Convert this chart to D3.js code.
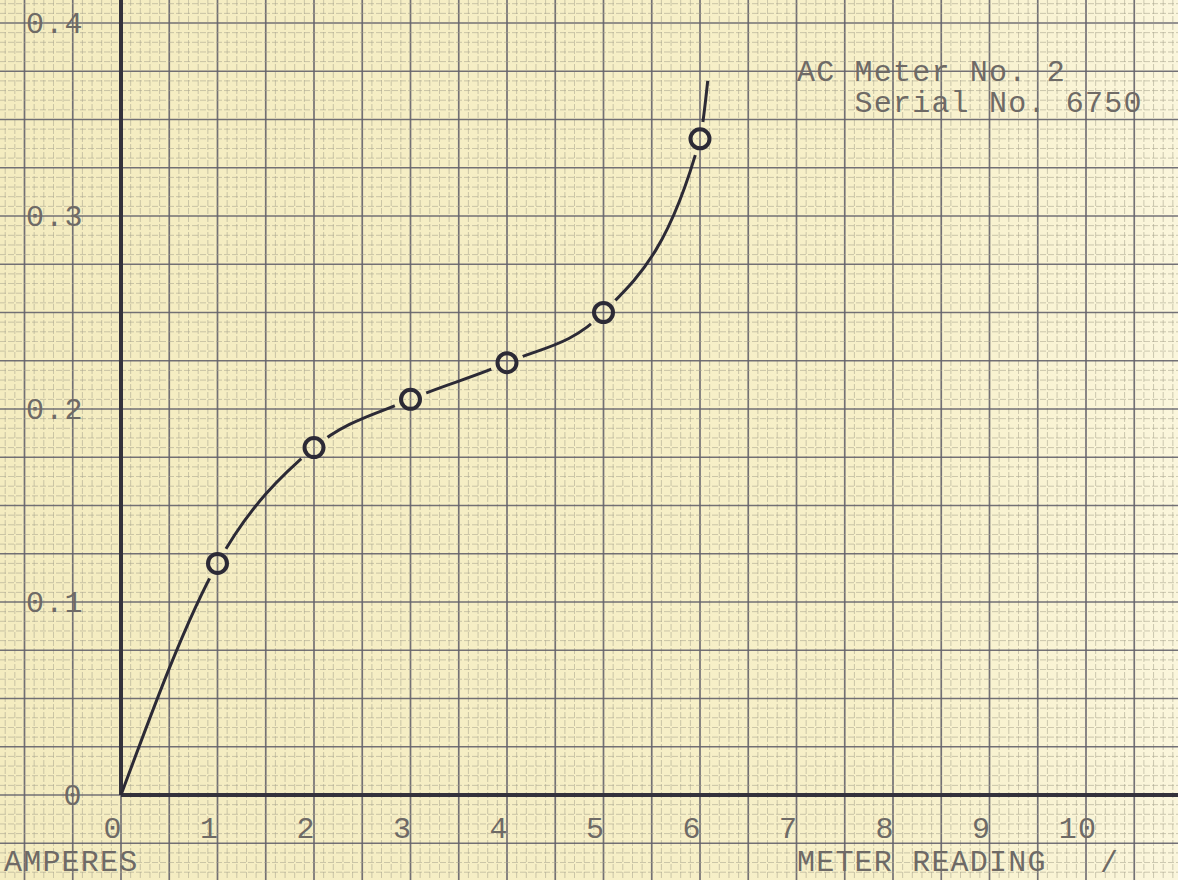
<!DOCTYPE html>
<html>
<head>
<meta charset="utf-8">
<script src="https://cdn.jsdelivr.net/npm/d3@7"></script>
<style>
  body { margin: 0; background: #f6efc6; }
  svg { display: block; }
  .lbl { font-family: "Liberation Mono", "DejaVu Sans Mono", monospace; font-size: 30px; letter-spacing: 1.2px; fill: #6e6a66; }
</style>
</head>
<body>
<svg id="chart" width="1178" height="880"></svg>
<script>
// meter reading vs amperes
const meterReading = [1, 2, 3, 4, 5, 6];
const amperes = [0.12, 0.18, 0.205, 0.224, 0.25, 0.34];
// drawn curve starts at origin and runs a little past the last point
const curveStart = [0, 0];
const curveEnd = [6.08, 0.37];
const xTicks = [0, 1, 2, 3, 4, 5, 6, 7, 8, 9, 10];
const yTicks = [0.1, 0.2, 0.3, 0.4];
const yTickLabels = ["0.1", "0.2", "0.3", "0.4"];
const noteLines = ["AC Meter No. 2", "   Serial No. 6750"];

const W = 1178, H = 880;
const svg = d3.select("#chart");

const x = d3.scaleLinear().domain([0, 10]).range([121, 1086]);
const y = d3.scaleLinear().domain([0, 0.4]).range([795, 23]);

// paper
const defs = svg.append("defs");
const grad = defs.append("linearGradient").attr("id", "paper")
    .attr("x1", "0").attr("x2", "1").attr("y1", "0").attr("y2", "0");
grad.append("stop").attr("offset", "0").attr("stop-color", "#f4ecc0");
grad.append("stop").attr("offset", "0.75").attr("stop-color", "#f7f0c9");
grad.append("stop").attr("offset", "1").attr("stop-color", "#fbf6dc");
svg.append("rect").attr("width", W).attr("height", H).attr("fill", "url(#paper)");

// graph paper grid: minor 0.1 x-units / 0.005 y-units, major every 5
const xMinor = d3.range(-13, 112).map(i => i / 10);
const yMinor = d3.range(-18, 166).map(i => i * 0.005);
const isMajorX = i => (i - 3) % 5 === 0;
const isMajorY = i => (i - 18) % 5 === 0;

const grid = svg.append("g");
grid.selectAll(".vx").data(xMinor).enter().append("line")
    .attr("x1", d => x(d)).attr("x2", d => x(d))
    .attr("y1", 0).attr("y2", H)
    .attr("stroke", (d, i) => isMajorX(i) ? "#65636c" : "#a9a58e")
    .attr("stroke-width", (d, i) => isMajorX(i) ? 1.7 : 0.9)
    .attr("stroke-dasharray", (d, i) => isMajorX(i) ? null : "6,2")
    .attr("opacity", (d, i) => isMajorX(i) ? 0.9 : 0.65);
grid.selectAll(".hy").data(yMinor).enter().append("line")
    .attr("y1", d => y(d)).attr("y2", d => y(d))
    .attr("x1", 0).attr("x2", W)
    .attr("stroke", (d, i) => isMajorY(i) ? "#65636c" : "#a9a58e")
    .attr("stroke-width", (d, i) => isMajorY(i) ? 1.7 : 0.9)
    .attr("stroke-dasharray", (d, i) => isMajorY(i) ? null : "6,2")
    .attr("opacity", (d, i) => isMajorY(i) ? 0.9 : 0.65);

// axes
svg.append("line")
    .attr("x1", x(0)).attr("x2", x(0)).attr("y1", 0).attr("y2", y(0))
    .attr("stroke", "#34323c").attr("stroke-width", 4);
svg.append("line")
    .attr("x1", x(0)).attr("x2", W).attr("y1", y(0)).attr("y2", y(0))
    .attr("stroke", "#34323c").attr("stroke-width", 4);

// tick labels
svg.selectAll(".xl").data(xTicks).enter().append("text")
    .attr("class", "lbl")
    .attr("x", d => x(d) - 8)
    .attr("y", 838)
    .attr("text-anchor", "middle")
    .text(d => d);
svg.selectAll(".yl").data(yTicks).enter().append("text")
    .attr("class", "lbl")
    .attr("x", 26)
    .attr("y", d => y(d) + 10)
    .text((d, i) => yTickLabels[i]);
svg.append("text").attr("class", "lbl")
    .attr("x", 73).attr("y", y(0) + 10).attr("text-anchor", "middle").text("0");

svg.append("text").attr("class", "lbl").attr("x", 4).attr("y", 871).text("AMPERES");
svg.append("text").attr("class", "lbl").attr("x", 797).attr("y", 871).text("METER READING");
svg.append("text").attr("class", "lbl").attr("x", 1100).attr("y", 872).text("/");

svg.selectAll(".note").data(noteLines).enter().append("text")
    .attr("class", "lbl")
    .attr("x", 797)
    .attr("y", (d, i) => 81 + i * 31)
    .attr("xml:space", "preserve")
    .style("white-space", "pre")
    .text(d => d);

// curve with gaps around markers
const pts = meterReading.map((m, i) => [m, amperes[i]]);
const curvePts = [curveStart].concat(pts, [curveEnd]);

const mask = defs.append("mask").attr("id", "gaps");
mask.append("rect").attr("width", W).attr("height", H).attr("fill", "white");
mask.selectAll("circle").data(pts).enter().append("circle")
    .attr("cx", d => x(d[0])).attr("cy", d => y(d[1])).attr("r", 17).attr("fill", "black");

const line = d3.line()
    .x(d => x(d[0]))
    .y(d => y(d[1]))
    .curve(d3.curveMonotoneX);

svg.append("path")
    .datum(curvePts)
    .attr("d", line)
    .attr("fill", "none")
    .attr("stroke", "#2c2a36")
    .attr("stroke-width", 3)
    .attr("mask", "url(#gaps)");

svg.selectAll(".pt").data(pts).enter().append("circle")
    .attr("cx", d => x(d[0])).attr("cy", d => y(d[1]))
    .attr("r", 9.5)
    .attr("fill", "none")
    .attr("stroke", "#2c2a36")
    .attr("stroke-width", 4);
</script>
</body>
</html>
